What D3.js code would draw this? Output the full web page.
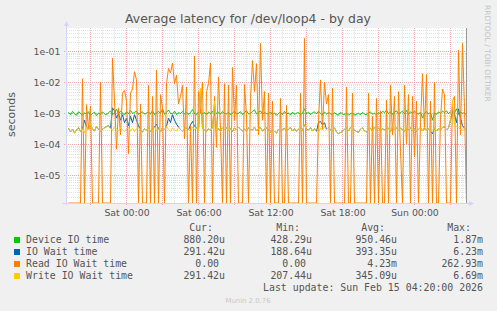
<!DOCTYPE html>
<html>
<head>
<meta charset="utf-8">
<title>loop4 latency</title>
<script src="https://cdn.jsdelivr.net/npm/d3@7/dist/d3.min.js"></script>
<style>
  body { margin: 0; background: #f0f0f0; }
  svg text { font-family: "DejaVu Sans", sans-serif; fill: #555; }
  svg text.mono { font-family: "DejaVu Sans Mono", monospace; }
</style>
</head>
<body>
<svg width="497" height="311" id="mainsvg"></svg>
<script>
// time window of the day graph (UTC used as wall clock)
const startTime = Date.UTC(2026, 1, 13, 19, 0);
const endTime = Date.UTC(2026, 1, 15, 4, 20);
const stepMinutes = 10;

// values in microseconds, one every 10 minutes
const deviceIO = [
  1080, 900, 1150, 960, 870, 1120, 1000, 860, 1040, 940, 1130, 880, 980, 1090, 850, 1020, 930, 1110, 970, 890,
  1050, 1180, 920, 1010, 1350, 940, 1200, 1030, 880, 1140, 960, 1250, 990, 1070, 1180, 920, 1040, 1120, 940, 1010,
  1100, 950, 1220, 900, 1030, 1150, 980, 1400, 930, 1070, 1280, 1000, 950, 1170, 910, 1060, 990, 1150, 950, 1090,
  920, 1080, 1320, 980, 900, 1120, 1200, 950, 1060, 890, 1100, 970, 1160, 870, 1030, 1090, 930, 1140, 990, 950,
  1090, 890, 1040, 1170, 940, 1010, 1130, 910, 1060, 1220, 950, 1000, 1150, 1300, 950, 1080, 1190, 920, 1060, 980,
  950, 1120, 890, 1040, 860, 1000, 1080, 910, 1150, 950, 1030, 870, 1100, 920, 1010, 1060, 890, 1040, 1400, 960,
  1090, 910, 1040, 1120, 950, 1170, 990, 890, 1100, 950, 1060, 980, 900, 1040, 930, 870, 1080, 950, 910, 1010,
  890, 960, 1050, 870, 930, 1010, 900, 1070, 950, 890, 1040, 1110, 930, 1000, 900, 1050, 960, 1160, 1060, 1250,
  970, 1140, 920, 1100, 1200, 940, 1060, 1160, 980, 1230, 920, 1120, 990, 1180, 1020, 930, 1100, 700, 1000, 1140,
  950, 1080, 600, 1040, 920, 1120, 990, 1180, 1050, 1210, 950, 1130, 1300, 1040, 1400, 920, 1100, 990, 1060, 880
];
const ioWait = [
  330, 250, 310, 230, 290, 350, 260, 320, 600, 370, 290, 440, 310, 270, 380, 300, 260, 310, 340, 370,
  400, 330, 1500, 1200, 700, 1000, 600, 900, 500, 700, 400, 800, 500, 900, 600, 400, 290, 250, 320, 280,
  340, 260, 310, 360, 450, 320, 250, 350, 290, 380, 700, 500, 900, 600, 450, 360, 300, 260, 310, 340,
  290, 420, 550, 380, 350, 270, 6200, 340, 290, 260, 320, 280, 350, 2000, 290, 320, 260, 340, 290, 350,
  270, 320, 260, 340, 290, 360, 300, 270, 310, 260, 340, 300, 290, 360, 270, 320, 350, 270, 310, 340,
  290, 240, 300, 260, 230, 310, 250, 300, 330, 260, 310, 350, 270, 320, 260, 310, 340, 270, 450, 300,
  290, 350, 270, 320, 260, 500, 550, 420, 500, 300, 350, 290, 270, 340, 250, 220, 240, 260, 310, 330,
  270, 350, 300, 290, 260, 240, 310, 340, 270, 250, 310, 330, 260, 360, 290, 340, 270, 320, 290, 350,
  330, 260, 370, 290, 350, 270, 340, 290, 260, 330, 290, 350, 270, 320, 260, 310, 340, 270, 350, 290,
  320, 260, 220, 340, 270, 320, 290, 350, 370, 290, 340, 600, 1200, 900, 500, 1400, 700, 400, 330, 291
];
const readWait = [
  0, 0, 0, 0, 0, 0, 0, 13000, 0, 1900, 300, 1700, 0, 0, 0, 0, 10000, 0, 0, 0,
  0, 0, 60000, 2500, 70, 1500, 200, 4500, 5500, 2500, 50, 4500, 6000, 22000, 12000, 0, 2000, 0, 0, 0,
  8000, 0, 3500, 0, 25000, 0, 4000, 1500, 0, 9000, 28000, 20000, 42000, 9000, 17000, 2000, 3500, 8000, 150, 7000,
  0, 400, 0, 70000, 0, 5000, 1000, 10000, 0, 5000, 9000, 42000, 0, 3500, 80, 15000, 300, 0, 9000, 0,
  8000, 0, 30000, 600, 8000, 0, 0, 0, 8500, 800, 0, 3000, 50000, 5000, 40000, 200, 180000, 600, 5000, 0,
  4500, 0, 2500, 0, 0, 0, 3000, 0, 0, 1800, 0, 0, 0, 0, 0, 0, 4500, 0, 260000, 0,
  0, 0, 0, 0, 0, 600, 12000, 300, 10000, 2000, 4000, 0, 6500, 0, 0, 0, 0, 0, 0, 7000,
  0, 0, 4500, 0, 0, 0, 0, 0, 0, 0, 4500, 0, 800, 0, 3000, 0, 1200, 0, 0, 2700,
  0, 8000, 200, 3500, 0, 5000, 60, 0, 8000, 100, 4000, 0, 3500, 40, 2500, 0, 500, 19000, 300, 18000,
  0, 2500, 0, 10000, 0, 0, 700, 6000, 4000, 0, 0, 0, 2500, 3500, 0, 110000, 200, 180000, 1500, 0
];
const writeWait = [
  330, 250, 310, 230, 290, 350, 260, 320, 240, 370, 290, 440, 310, 270, 380, 300, 260, 310, 340, 370,
  400, 330, 280, 370, 310, 270, 340, 300, 260, 310, 350, 270, 330, 260, 320, 350, 290, 250, 320, 280,
  340, 260, 310, 360, 270, 320, 250, 350, 290, 380, 300, 260, 340, 290, 270, 350, 300, 260, 310, 340,
  290, 260, 360, 300, 350, 270, 6500, 340, 290, 260, 320, 280, 350, 2500, 290, 320, 260, 340, 290, 350,
  270, 320, 260, 340, 290, 360, 300, 270, 310, 260, 340, 300, 290, 360, 270, 320, 350, 270, 310, 340,
  290, 240, 300, 260, 230, 310, 250, 300, 330, 260, 310, 350, 270, 320, 260, 310, 340, 270, 450, 300,
  290, 350, 270, 320, 260, 230, 340, 290, 370, 300, 350, 290, 270, 340, 250, 220, 240, 260, 310, 330,
  270, 350, 300, 290, 260, 240, 310, 340, 270, 250, 310, 330, 260, 360, 290, 340, 270, 320, 290, 350,
  330, 260, 370, 290, 350, 270, 340, 290, 260, 330, 290, 350, 270, 320, 260, 310, 340, 270, 350, 290,
  320, 260, 290, 340, 270, 320, 290, 350, 370, 290, 340, 600, 2700, 420, 380, 340, 300, 290, 330, 291
];

const seriesNames = ['Device IO time', 'IO Wait time', 'Read IO Wait time', 'Write IO Wait time'];
const seriesColors = ['#00cc00', '#0066b3', '#ff8000', '#ffcc00'];
const curValues = ['880.20u', '291.42u', '0.00\u00a0', '291.42u'];
const minValues = ['428.29u', '188.64u', '0.00\u00a0', '207.44u'];
const avgValues = ['950.46u', '393.35u', '4.23m', '345.09u'];
const maxValues = ['1.87m', '6.23m', '262.93m', '6.69m'];
const yTickValues = [1e-5, 1e-4, 1e-3, 1e-2, 1e-1];
const yTickLabels = ['1e-05', '1e-04', '1e-03', '1e-02', '1e-01'];

const svg = d3.select('svg');
const plot = { left: 66.5, right: 466.5, top: 28, bottom: 203 };

const xScale = d3.scaleUtc().domain([startTime, endTime]).range([plot.left, plot.right]);
const yScale = d3.scaleLog().domain([1.28e-6, 0.565]).range([plot.bottom, plot.top]).clamp(true);

svg.append('rect').attr('width', 497).attr('height', 311).attr('fill', '#f0f0f0');
svg.append('rect').attr('x', plot.left).attr('y', plot.top)
  .attr('width', plot.right - plot.left).attr('height', plot.bottom - plot.top).attr('fill', '#fff');

// grid
const grid = svg.append('g').attr('shape-rendering', 'crispEdges');
const minorY = [];
for (let k = -6; k <= -1; k++) for (let m = 2; m <= 9; m++) {
  const v = m * Math.pow(10, k);
  if (v > yScale.domain()[0] && v < yScale.domain()[1]) minorY.push(v);
}
grid.selectAll('.hminor').data(minorY).join('line')
  .attr('x1', plot.left).attr('x2', plot.right)
  .attr('y1', d => Math.round(yScale(d)) + 0.5).attr('y2', d => Math.round(yScale(d)) + 0.5)
  .attr('stroke', '#e2e2e2').attr('stroke-dasharray', '1,1');
const hours = d3.utcHour.every(1).range(startTime + 1, endTime);
grid.selectAll('.vminor').data(hours.filter(d => d.getUTCHours() % 3 !== 0)).join('line')
  .attr('x1', d => Math.floor(xScale(d)) + 0.5).attr('x2', d => Math.floor(xScale(d)) + 0.5)
  .attr('y1', plot.top).attr('y2', plot.bottom)
  .attr('stroke', '#e2e2e2').attr('stroke-dasharray', '1,1');
grid.selectAll('.hmajor').data(yTickValues).join('line')
  .attr('x1', plot.left - 3).attr('x2', plot.right)
  .attr('y1', d => Math.round(yScale(d)) + 0.5).attr('y2', d => Math.round(yScale(d)) + 0.5)
  .attr('stroke', '#eaa8a8').attr('stroke-dasharray', '1,1');
grid.selectAll('.vmajor').data(hours.filter(d => d.getUTCHours() % 3 === 0)).join('line')
  .attr('x1', d => Math.floor(xScale(d)) + 0.5).attr('x2', d => Math.floor(xScale(d)) + 0.5)
  .attr('y1', plot.top).attr('y2', plot.bottom + 3)
  .attr('stroke', '#eaa8a8').attr('stroke-dasharray', '1,1');

// axes labels
const yAxis = svg.append('g').attr('transform', `translate(${plot.left},0)`)
  .call(d3.axisLeft(yScale).tickValues(yTickValues).tickFormat((d, i) => yTickLabels[i]).tickSize(0).tickPadding(6));
const xAxis = svg.append('g').attr('transform', `translate(0,${plot.bottom})`)
  .call(d3.axisBottom(xScale).ticks(d3.utcHour.every(6)).tickFormat(d3.utcFormat('%a %H:%M')).tickSize(0).tickPadding(6.5));
[yAxis, xAxis].forEach(a => {
  a.select('.domain').remove();
  a.selectAll('text').attr('font-size', '9.33px').attr('fill', '#555')
    .attr('font-family', '"DejaVu Sans", sans-serif');
});

// data lines
const times = readWait.map((d, i) => startTime + (i + 1) * stepMinutes * 60000);
const line = d3.line().x(d => xScale(d[0])).y(d => yScale(Math.max(d[1] / 1e6, 1e-9)));
[deviceIO, ioWait, readWait, writeWait].forEach((values, s) => {
  svg.append('path')
    .datum(values.map((v, i) => [times[i], v]))
    .attr('d', line).attr('fill', 'none')
    .attr('stroke', seriesColors[s]).attr('stroke-width', 1);
});

// axis lines and arrows
const axisColor = '#cfd6f8';
svg.append('line').attr('x1', plot.left).attr('x2', plot.left).attr('y1', plot.bottom + 2).attr('y2', 24)
  .attr('stroke', axisColor);
svg.append('line').attr('x1', plot.left - 4).attr('x2', 470).attr('y1', plot.bottom + 0.5).attr('y2', plot.bottom + 0.5)
  .attr('stroke', axisColor);
svg.append('path').attr('d', `M${plot.left - 2.5},26 L${plot.left + 2.5},26 L${plot.left},21 Z`).attr('fill', axisColor);
svg.append('path').attr('d', `M469,${plot.bottom - 2} L469,${plot.bottom + 3} L474,${plot.bottom + 0.5} Z`).attr('fill', axisColor);
svg.append('line').attr('x1', plot.right).attr('x2', plot.right).attr('y1', plot.top).attr('y2', plot.bottom)
  .attr('stroke', '#999');

// titles
svg.append('text').attr('x', 248).attr('y', 23).attr('text-anchor', 'middle')
  .attr('font-size', '12.44px').text('Average latency for /dev/loop4 - by day');
svg.append('text').attr('transform', 'translate(15,114.5) rotate(-90)').attr('text-anchor', 'middle')
  .attr('font-size', '11px').text('seconds');
svg.append('text').attr('transform', 'translate(485,5) rotate(90)')
  .attr('font-size', '7.5px').style('fill', '#c4c4c4').text('RRDTOOL / TOBI OETIKER');

// legend
const legend = svg.append('g');
const colRight = [225, 312, 397, 483];
['Cur:', 'Min:', 'Avg:', 'Max:'].forEach((h, i) => {
  legend.append('text').attr('class', 'mono').attr('x', colRight[i] - 12).attr('y', 231)
    .attr('text-anchor', 'end').attr('font-size', '9.9px').text(h);
});
seriesNames.forEach((name, r) => {
  const y = 243 + r * 12;
  legend.append('rect').attr('x', 14).attr('y', y - 6).attr('width', 6).attr('height', 6).attr('fill', seriesColors[r]);
  legend.append('text').attr('class', 'mono').attr('x', 26).attr('y', y).attr('font-size', '9.9px').text(name);
  [curValues, minValues, avgValues, maxValues].forEach((col, c) => {
    legend.append('text').attr('class', 'mono').attr('x', colRight[c]).attr('y', y)
      .attr('text-anchor', 'end').attr('font-size', '9.9px').text(col[r]);
  });
});
legend.append('text').attr('class', 'mono').attr('x', 483).attr('y', 291).attr('text-anchor', 'end')
  .attr('font-size', '9.9px').text('Last update: Sun Feb 15 04:20:00 2026');
svg.append('text').attr('x', 248).attr('y', 303).attr('text-anchor', 'middle')
  .attr('font-size', '6.9px').style('fill', '#c8c8c8').text('Munin 2.0.76');
</script>
</body>
</html>
